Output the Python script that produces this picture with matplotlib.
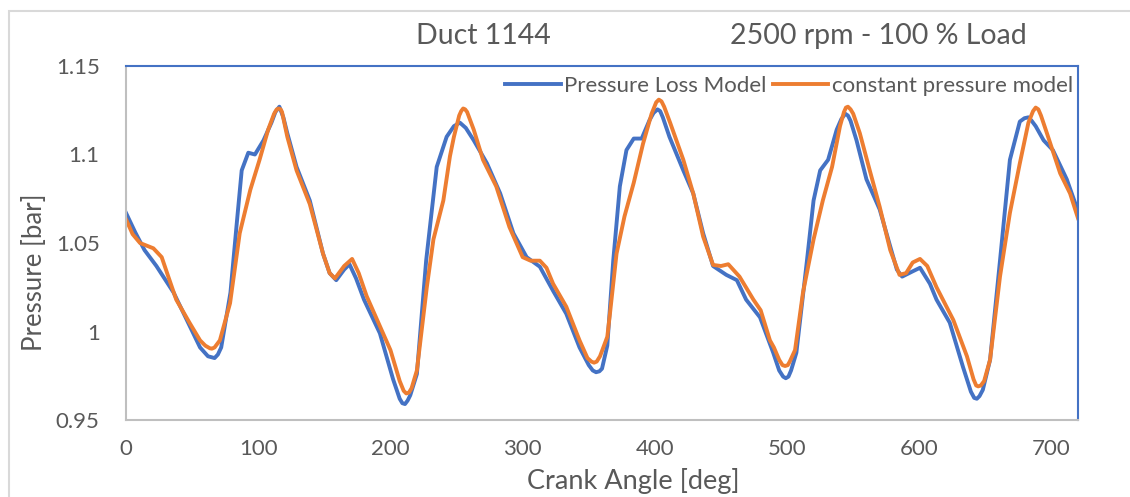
"""
Duct 1144 pressure trace: pressure loss model vs constant pressure model.
"""
import matplotlib
matplotlib.use('Agg')
import matplotlib.pyplot as plt
from matplotlib.patches import Rectangle

plt.rcParams['font.family'] = ['Lato', 'DejaVu Sans']

TEXT_GREY = '#595959'
BLUE = '#4472C4'
ORANGE = '#ED7D31'

# crank angle [deg] and pressure [bar]
loss_angle = [0, 7, 14, 23, 36, 46, 56, 62, 64.5, 67, 69.5, 72, 79, 84, 87.5,
              92.5, 97.5, 104, 110, 113, 116, 119, 122, 129, 139, 149, 154, 159,
              165, 169, 174, 180, 192, 202, 207, 209, 211, 213, 215, 220, 227,
              235, 242.5, 248, 252.5, 257, 263, 273, 283, 293, 303, 313, 323,
              333, 343, 350, 353, 355.5, 358, 360, 364, 368.5, 373.5, 378.5,
              384, 390, 396, 399, 402, 404, 406, 411, 421.5, 429, 436.5, 444,
              454, 462, 469, 479.5, 489.5, 494, 497, 499, 501, 503, 507, 515,
              520, 525, 531, 537.5, 541, 544, 546, 548, 552.5, 560, 570, 578,
              583, 587, 595, 600.5, 608, 613, 623, 633, 639, 641.5, 643.5, 645.5,
              648, 653.5, 661, 668.5, 676, 679.5, 682.5, 685, 688, 694, 701,
              711.5, 720]
loss_pressure = [1.067, 1.056, 1.046, 1.037, 1.022, 1.0065, 0.991, 0.986, 0.9855,
                 0.985, 0.987, 0.991, 1.022, 1.063, 1.091, 1.101, 1.100, 1.108,
                 1.118, 1.124, 1.127, 1.121, 1.112, 1.093, 1.074, 1.044, 1.033,
                 1.029, 1.035, 1.038, 1.030, 1.018, 0.999, 0.973, 0.962, 0.9595,
                 0.959, 0.961, 0.964, 0.976, 1.040, 1.093, 1.110, 1.116, 1.118,
                 1.115, 1.108, 1.095, 1.078, 1.0555, 1.042, 1.0366, 1.023, 1.010,
                 0.991, 0.981, 0.978, 0.977, 0.9775, 0.979, 0.992, 1.040, 1.082,
                 1.1025, 1.109, 1.109, 1.1195, 1.1235, 1.1255, 1.1245, 1.121,
                 1.110, 1.091, 1.078, 1.0555, 1.037, 1.032, 1.029, 1.018, 1.008,
                 0.988, 0.978, 0.9745, 0.9736, 0.9745, 0.978, 0.988, 1.040, 1.074,
                 1.091, 1.097, 1.114, 1.120, 1.123, 1.122, 1.119, 1.108, 1.086,
                 1.069, 1.048, 1.035, 1.031, 1.034, 1.036, 1.027, 1.018, 1.005,
                 0.980, 0.966, 0.9625, 0.962, 0.9635, 0.967, 0.984, 1.040, 1.097,
                 1.1186, 1.1205, 1.121, 1.119, 1.116, 1.108, 1.1025, 1.086, 1.068]

const_angle = [0, 5, 10.6, 20.7, 27, 32, 38, 48, 56, 60, 63.5, 65, 67, 71, 78.7,
               86, 94, 101, 107.5, 112, 114, 115.5, 117, 118, 122, 129, 139, 149,
               154, 158, 165, 171, 176, 182, 192, 200, 207, 210, 212, 214, 216,
               220, 227.5, 232.5, 240, 245, 248, 252, 253.5, 255, 256.5, 258, 263,
               270, 280, 290, 300, 306, 313, 318, 323, 333, 343, 349, 352, 354,
               356, 358.5, 364, 366, 371, 377, 384, 391, 397.5, 401, 403, 405,
               407, 411.5, 421.5, 429, 436.5, 444, 450, 455.5, 464, 474.5, 480,
               487, 490, 494, 496.5, 498.5, 500.5, 502, 506, 512, 520, 527, 534,
               540, 543, 544.5, 546, 548, 550, 555, 562.5, 570, 578, 585, 590, 595,
               600.5, 606, 613, 625.7, 636, 641, 643, 644.5, 646.5, 649, 653.5,
               661, 668.5, 676, 682.5, 686, 688, 690, 692, 696.5, 706.5, 714, 720]
const_pressure = [1.0634, 1.055, 1.050, 1.047, 1.042, 1.031, 1.018, 1.005, 0.995,
                  0.992, 0.9905, 0.9903, 0.991, 0.995, 1.016, 1.0555, 1.080,
                  1.097, 1.114, 1.123, 1.1255, 1.126, 1.1255, 1.124, 1.110, 1.091,
                  1.072, 1.044, 1.033, 1.030, 1.037, 1.041, 1.033, 1.020, 1.003,
                  0.9895, 0.972, 0.9665, 0.965, 0.9655, 0.968, 0.978, 1.025, 1.052,
                  1.074, 1.099, 1.110, 1.122, 1.1245, 1.126, 1.1255, 1.124, 1.114,
                  1.097, 1.082, 1.059, 1.042, 1.040, 1.040, 1.036, 1.027, 1.014,
                  0.995, 0.985, 0.983, 0.9824, 0.983, 0.986, 0.997, 1.010, 1.044,
                  1.065, 1.084, 1.106, 1.123, 1.1295, 1.131, 1.130, 1.127, 1.118,
                  1.097, 1.078, 1.0536, 1.0376, 1.037, 1.038, 1.031, 1.018, 1.012,
                  0.995, 0.991, 0.984, 0.981, 0.9805, 0.981, 0.983, 0.9895, 1.022,
                  1.052, 1.074, 1.093, 1.116, 1.124, 1.1265, 1.127, 1.1255, 1.123,
                  1.112, 1.091, 1.0705, 1.046, 1.032, 1.033, 1.039, 1.041, 1.037,
                  1.025, 1.0065, 0.986, 0.973, 0.9695, 0.969, 0.9695, 0.972, 0.984,
                  1.031, 1.067, 1.095, 1.118, 1.1245, 1.1265, 1.1255, 1.122, 1.112,
                  1.0894, 1.078, 1.064]

x_ticks = [0, 100, 200, 300, 400, 500, 600, 700]
y_ticks = [0.95, 1.0, 1.05, 1.1, 1.15]
y_tick_labels = ['0.95', '1', '1.05', '1.1', '1.15']

W, H = 1130, 497
fig = plt.figure(figsize=(W / 100, H / 100), dpi=100)

# light grey chart border (runs off the right and bottom edge)
fig.patches.append(Rectangle((9 / W, -0.1), 1.2, 1 - 11 / H + 0.1,
                             transform=fig.transFigure, fill=False,
                             edgecolor='#D9D9D9', linewidth=1.5))

ax = fig.add_axes([126 / W, 77 / H, 952 / W, 354 / H])

ax.plot(loss_angle, loss_pressure, color=BLUE, linewidth=2.8,
        solid_joinstyle='round', label='Pressure Loss Model')
ax.plot(const_angle, const_pressure, color=ORANGE, linewidth=2.8,
        solid_joinstyle='round', label='constant pressure model')

ax.set_xlim(0, 720)
ax.set_ylim(0.95, 1.15)
ax.set_xticks(x_ticks)
ax.set_yticks(y_ticks)
ax.set_yticklabels(y_tick_labels)
ax.tick_params(axis='both', length=0, labelsize=16, colors=TEXT_GREY)
ax.tick_params(axis='y', pad=19)
ax.tick_params(axis='x', pad=14)

for side in ['left', 'bottom']:
    ax.spines[side].set_color('#BFBFBF')
    ax.spines[side].set_linewidth(1.5)
for side in ['top', 'right']:
    ax.spines[side].set_color(BLUE)
    ax.spines[side].set_linewidth(1.5)

leg = ax.legend(loc='upper right', ncol=2, frameon=False, fontsize=16,
                handlelength=2.5, handletextpad=0.15, columnspacing=0.3,
                borderaxespad=0.0, bbox_to_anchor=(1.004, 0.997))
for t in leg.get_texts():
    t.set_color(TEXT_GREY)

fig.text(633 / W, 1 - 481 / H, 'Crank Angle [deg]', fontsize=19.5,
         color=TEXT_GREY, ha='center', va='center')
fig.text(35 / W, 1 - 272 / H, 'Pressure [bar]', fontsize=18.5, rotation=90,
         color=TEXT_GREY, ha='center', va='center')
fig.text(483 / W, 1 - 36 / H, 'Duct 1144', fontsize=20.5,
         color=TEXT_GREY, ha='center', va='center')
fig.text(878 / W, 1 - 36 / H, '2500 rpm - 100 % Load', fontsize=20.5,
         color=TEXT_GREY, ha='center', va='center')

fig.savefig('out.png', dpi=100)
